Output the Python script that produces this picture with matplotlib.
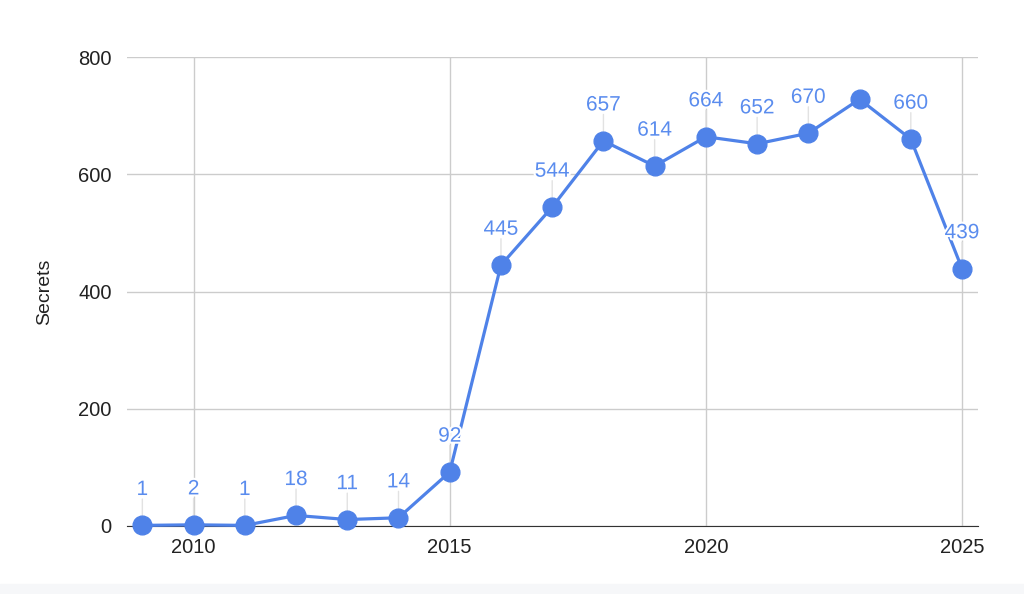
import matplotlib
matplotlib.use("Agg")
import matplotlib.pyplot as plt
import matplotlib.patheffects as pe
from matplotlib.patches import Rectangle

plt.rcParams['font.family'] = ['Liberation Sans', 'DejaVu Sans']

# Datos
anios = [2009, 2010, 2011, 2012, 2013, 2014, 2015, 2016, 2017,
         2018, 2019, 2020, 2021, 2022, 2023, 2024, 2025]
secretos = [1, 2, 1, 18, 11, 14, 92, 445, 544,
            657, 614, 664, 652, 670, 728, 660, 439]
# etiqueta oculta en 2023 (igual que en el original)
etiquetas = [str(v) for v in secretos]
etiquetas[anios.index(2023)] = ""

azul = '#4f82e8'
azul_texto = '#5a8cee'

fig = plt.figure(figsize=(10.24, 5.94), dpi=100)
ax = fig.add_axes([0.124, 0.1145, 0.831, 0.7895])

ax.plot(anios, secretos, color=azul, linewidth=2.3, marker='o',
        markersize=13.5, zorder=3, clip_on=False)

for x, y, t in zip(anios, secretos, etiquetas):
    if not t:
        continue
    # linea guia
    ax.annotate("", xy=(x, y), xytext=(0, 19), textcoords='offset points',
                arrowprops=dict(arrowstyle='-', color='#e2e2e2', lw=1,
                                shrinkA=0, shrinkB=0), zorder=1)
    ax.annotate(t, xy=(x, y), xytext=(0, 19), textcoords='offset points',
                ha='center', va='bottom', fontsize=15, color=azul_texto,
                zorder=4,
                path_effects=[pe.withStroke(linewidth=3, foreground='white')])

ax.set_xlim(2008.7, 2025.31)
ax.set_ylim(0, 800)
ax.set_xticks([2010, 2015, 2020, 2025])
ax.set_yticks([0, 200, 400, 600, 800])
ax.grid(True, color='#cccccc', linewidth=1)
ax.set_axisbelow(True)
for lado in ['top', 'right', 'left']:
    ax.spines[lado].set_visible(False)
ax.spines['bottom'].set_color('#333333')
ax.spines['bottom'].set_zorder(2)
ax.tick_params(length=0, labelsize=14.5, colors='#222222')
ax.tick_params(axis='x', pad=9)
ax.tick_params(axis='y', pad=11)
ax.set_ylabel("Secrets", fontsize=14, labelpad=18, color='#222222')

# franja gris inferior
fig.patches.append(Rectangle((0, 0), 1, 10 / 594, transform=fig.transFigure,
                             color='#f6f7f9', zorder=0))

plt.savefig("out.png", dpi=100)
